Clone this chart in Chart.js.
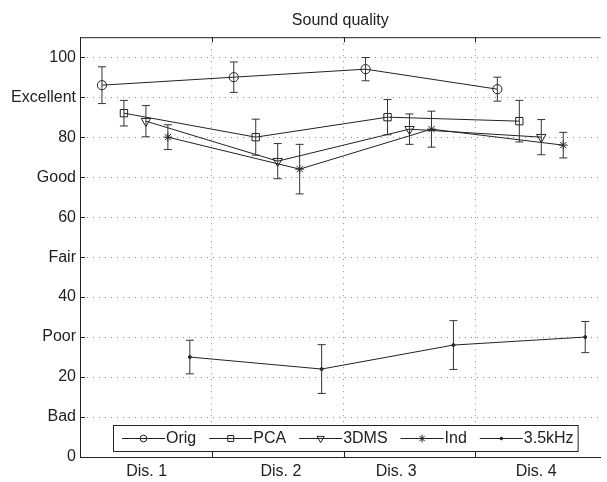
<!DOCTYPE html>
<html>
<head>
<meta charset="utf-8">
<title>Sound quality</title>
<script src="https://cdn.jsdelivr.net/npm/chart.js@4.4.1/dist/chart.umd.min.js"></script>
<style>
  html, body { margin: 0; padding: 0; background: #fff; }
  #wrap { width: 607px; height: 482px; }
</style>
</head>
<body>
<div id="wrap"><canvas id="soundChart" width="607" height="482"></canvas></div>
<script>
// ---- donnees ----
const conditions = ['Dis. 1', 'Dis. 2', 'Dis. 3', 'Dis. 4'];
const conditionPos = [1, 2, 3, 4];
const labelPos = [1.006, 2.024, 2.899, 3.961];   // ou s'affichent les libelles Dis. x
const dividerPos = [1.5, 2.5, 3.5];

const yTickValues = [0, 10, 20, 30, 40, 50, 60, 70, 80, 90, 100];
const yTickLabels = ['0', 'Bad', '20', 'Poor', '40', 'Fair', '60', 'Good', '80', 'Excellent', '100'];

const methods = ['Orig', 'PCA', '3DMS', 'Ind', '3.5kHz'];
const methodShift = [-1/3, -1/6, 0, 1/6, 1/3];

const origMean = [93, 95, 97, 92];
const origErr  = [4.6, 3.8, 2.9, 3.0];
const pcaMean  = [86, 80, 85, 84];
const pcaErr   = [3.2, 4.5, 4.4, 5.2];
const dmsMean  = [84, 74, 82, 80];
const dmsErr   = [3.9, 4.4, 3.8, 4.4];
const indMean  = [80, 72, 82, 78];
const indErr   = [3.1, 6.2, 4.5, 3.2];
const lowMean  = [25, 22, 28, 30];
const lowErr   = [4.2, 6.1, 6.1, 3.9];

const means = [origMean, pcaMean, dmsMean, indMean, lowMean];
const errs = [origErr, pcaErr, dmsErr, indErr, lowErr];

// style des marqueurs (facon matlab : o, carre, triangle bas, *, point)
const markers = [
    { pointStyle: 'circle',   radius: 4.6, legendRadius: 3.4, rotation: 0,   fill: 'rgba(0,0,0,0)' },
    { pointStyle: 'rect',     radius: 5.2, legendRadius: 4.2, rotation: 0,   fill: 'rgba(0,0,0,0)' },
    { pointStyle: 'triangle', radius: 5.4, legendRadius: 4.2, rotation: 180, fill: 'rgba(0,0,0,0)' },
    { pointStyle: 'star',     radius: 4.4, legendRadius: 3.8, rotation: 0,   fill: 'rgba(0,0,0,0)' },
    { pointStyle: 'circle',   radius: 1.5, legendRadius: 1.3, rotation: 0,   fill: '#222' }
];

const ink = '#222';
const gridGrey = '#8a8a8a';

Chart.defaults.font.family = '"Liberation Sans", Arial, Helvetica, sans-serif';
Chart.defaults.font.size = 16;
Chart.defaults.color = ink;

const datasets = methods.map((name, s) => ({
    label: name,
    data: conditionPos.map((c, i) => ({ x: c + methodShift[s], y: means[s][i] })),
    errs: errs[s],
    borderColor: ink,
    borderWidth: 1,
    tension: 0,
    fill: false,
    pointStyle: markers[s].pointStyle,
    pointRadius: markers[s].radius,
    pointRotation: markers[s].rotation,
    pointBorderColor: ink,
    pointBackgroundColor: markers[s].fill,
    pointBorderWidth: 1
}));

// barres d'erreur (moyenne +/- ecart)
const errorBars = {
    id: 'errorBars',
    afterDatasetsDraw(chart) {
        const ctx = chart.ctx;
        const y = chart.scales.y;
        ctx.save();
        ctx.strokeStyle = '#333';
        ctx.lineWidth = 1;
        chart.data.datasets.forEach((ds, d) => {
            const meta = chart.getDatasetMeta(d);
            meta.data.forEach((pt, i) => {
                const v = ds.data[i].y;
                const e = ds.errs[i];
                const top = y.getPixelForValue(v + e);
                const bot = y.getPixelForValue(v - e);
                const x = pt.x;
                ctx.beginPath();
                ctx.moveTo(x, top); ctx.lineTo(x, bot);
                ctx.moveTo(x - 4, top); ctx.lineTo(x + 4, top);
                ctx.moveTo(x - 4, bot); ctx.lineTo(x + 4, bot);
                ctx.stroke();
            });
        });
        ctx.restore();
    }
};

// cadre du haut + petits ticks vers l'interieur
const axisFrame = {
    id: 'axisFrame',
    afterDraw(chart) {
        const { ctx, chartArea: a, scales: { x, y } } = chart;
        ctx.save();
        ctx.strokeStyle = ink;
        ctx.lineWidth = 1;
        ctx.beginPath();
        ctx.moveTo(a.left, a.top + 0.5);
        ctx.lineTo(a.right, a.top + 0.5);
        dividerPos.forEach(v => {
            const px = Math.round(x.getPixelForValue(v)) + 0.5;
            ctx.moveTo(px, a.bottom); ctx.lineTo(px, a.bottom - 5);
            ctx.moveTo(px, a.top); ctx.lineTo(px, a.top + 5);
        });
        yTickValues.forEach(v => {
            const py = Math.round(y.getPixelForValue(v)) + 0.5;
            ctx.moveTo(a.left, py); ctx.lineTo(a.left + 5, py);
        });
        ctx.stroke();
        ctx.restore();
    }
};

// legende encadree a l'interieur du graphique, en bas
const boxLegend = {
    id: 'boxLegend',
    afterDraw(chart) {
        const ctx = chart.ctx;
        const left = 113, top = 425, bottom = 451;
        const cy = (top + bottom) / 2;
        const lineLen = 43, gap = 14;
        ctx.save();
        ctx.font = '16px "Liberation Sans", Arial, Helvetica, sans-serif';
        let x = left + 9;
        const items = chart.data.datasets.map((ds, s) => {
            const it = { ds, s, x };
            x += lineLen + ctx.measureText(ds.label).width + gap;
            return it;
        });
        const right = x - gap + 5;
        ctx.fillStyle = '#fff';
        ctx.fillRect(left, top, right - left, bottom - top);
        ctx.strokeStyle = ink;
        ctx.lineWidth = 1;
        ctx.strokeRect(left + 0.5, top + 0.5, right - left, bottom - top);
        items.forEach(it => {
            ctx.beginPath();
            ctx.moveTo(it.x, cy + 0.5);
            ctx.lineTo(it.x + lineLen, cy + 0.5);
            ctx.stroke();
            const m = markers[it.s];
            ctx.fillStyle = m.fill;
            if (Chart.helpers && Chart.helpers.drawPoint) {
                Chart.helpers.drawPoint(ctx, {
                    pointStyle: m.pointStyle,
                    radius: m.legendRadius,
                    rotation: m.rotation,
                    borderWidth: 1
                }, it.x + lineLen / 2, cy + 0.5);
            }
            ctx.fillStyle = ink;
            ctx.textAlign = 'left';
            ctx.textBaseline = 'middle';
            ctx.fillText(it.ds.label, it.x + lineLen + 1, cy + 1);
        });
        ctx.restore();
    }
};

const ctx = document.getElementById('soundChart').getContext('2d');
new Chart(ctx, {
    type: 'line',
    data: { datasets: datasets },
    options: {
        responsive: false,
        animation: false,
        events: [],
        layout: { padding: 0 },
        plugins: {
            legend: { display: false },
            tooltip: { enabled: false },
            title: {
                display: true,
                text: 'Sound quality',
                fullSize: false,
                color: ink,
                font: { size: 16, weight: 'normal' },
                padding: { top: 11, bottom: 7 }
            }
        },
        scales: {
            x: {
                type: 'linear',
                min: 0.5,
                max: 4.45,
                afterBuildTicks: axis => {
                    axis.ticks = labelPos.concat(dividerPos).sort((a, b) => a - b).map(v => ({ value: v }));
                },
                afterFit: axis => { axis.height = 25; },
                ticks: {
                    autoSkip: false,
                    maxRotation: 0,
                    padding: 5,
                    color: ink,
                    callback: value => {
                        const i = labelPos.indexOf(value);
                        return i >= 0 ? conditions[i] : '';
                    }
                },
                grid: {
                    drawTicks: false,
                    color: c => (c.tick && dividerPos.includes(c.tick.value)) ? gridGrey : 'rgba(0,0,0,0)',
                    lineWidth: 1
                },
                border: { display: true, color: ink, width: 1, dash: [1, 5] }
            },
            y: {
                min: 0,
                max: 105,
                afterBuildTicks: axis => {
                    axis.ticks = yTickValues.map(v => ({ value: v }));
                },
                afterFit: axis => { axis.width = 80; },
                ticks: {
                    padding: 4,
                    color: ink,
                    callback: value => {
                        const i = yTickValues.indexOf(value);
                        return i >= 0 ? yTickLabels[i] : '';
                    }
                },
                grid: {
                    drawTicks: false,
                    color: c => (c.tick && c.tick.value > 0) ? gridGrey : 'rgba(0,0,0,0)',
                    lineWidth: 1
                },
                border: { display: true, color: ink, width: 1, dash: [1, 5] }
            }
        }
    },
    plugins: [errorBars, axisFrame, boxLegend]
});
</script>
</body>
</html>
